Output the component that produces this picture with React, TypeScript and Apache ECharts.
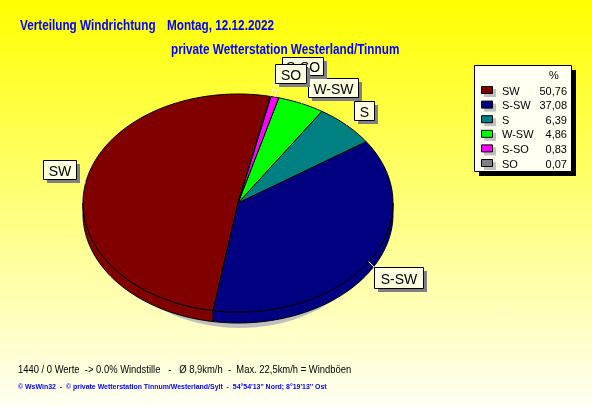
import React, { useEffect, useRef } from "react";
import * as echarts from "echarts";

// ---- data ----
const categories = ["SW", "S-SW", "S", "W-SW", "S-SO", "SO"];
const percents = [50.76, 37.08, 6.39, 4.86, 0.83, 0.07];
const percentLabels = ["50,76", "37,08", "6,39", "4,86", "0,83", "0,07"];
const colors = ["#800000", "#000080", "#008080", "#00FF00", "#FF00FF", "#808080"];

const titleLeft = "Verteilung Windrichtung";
const titleRight = "Montag, 12.12.2022";
const subtitle = "private Wetterstation Westerland/Tinnum";
const footer1 = "1440 / 0 Werte  -> 0.0% Windstille   -   Ø 8,9km/h  -  Max. 22,5km/h = Windböen";
const footer2 = "© WsWin32  -  © private Wetterstation Tinnum/Westerland/Sylt  -  54°54'13'' Nord; 8°19'13'' Ost";

// ---- layout ----
const CX = 238, CY = 203, RX = 155, RY = 109, DEPTH = 11, START = 78;
const labelBoxes = [
  { x: 43, y: 160, w: 33, h: 19 },
  { x: 374, y: 267, w: 49, h: 21 },
  { x: 354, y: 101, w: 20, h: 19 },
  { x: 308, y: 78, w: 50, h: 19 },
  { x: 282, y: 57, w: 41, h: 18 },
  { x: 275, y: 64, w: 31, h: 19 },
];
const SANS = "'Liberation Sans', Arial, sans-serif";

const total = percents.reduce((a, b) => a + b, 0);
const startAngles: number[] = [];
{
  let acc = 0;
  for (let i = 0; i < percents.length; i++) {
    startAngles.push(START + (acc / total) * 360);
    acc += percents[i];
  }
}

function pt(t: number, dy = 0): number[] {
  const r = (t * Math.PI) / 180;
  return [CX + RX * Math.cos(r), CY - RY * Math.sin(r) + dy];
}
function arc(a0: number, a1: number, dy = 0): number[][] {
  const pts: number[][] = [];
  const n = Math.max(1, Math.ceil(Math.abs(a1 - a0)));
  for (let k = 0; k <= n; k++) pts.push(pt(a0 + ((a1 - a0) * k) / n, dy));
  return pts;
}

export default function App() {
  const ref = useRef<HTMLDivElement>(null);
  useEffect(() => {
    if (!ref.current) return;
    const chart = echarts.init(ref.current, undefined, { renderer: "svg" });

    const graphics: any[] = [];
    graphics.push({
      type: "rect",
      z: 0,
      shape: { x: 0, y: 0, width: 592, height: 407 },
      style: {
        fill: new echarts.graphic.LinearGradient(0, 0, 0, 1, [
          { offset: 0, color: "#FFFF00" },
          { offset: 1, color: "#FFFFF4" },
        ]),
      },
    });
    // pie shadow
    graphics.push({
      type: "ellipse",
      z: 1,
      shape: { cx: 240, cy: 219, rx: 140, ry: 109 },
      style: { fill: "#C0C0C0" },
    });
    // titles (condensed look via horizontal scaling)
    const tStyle = { fill: "#0000FF", font: `bold 14px ${SANS}`, verticalAlign: "middle" };
    graphics.push({ type: "text", z: 10, x: 20, y: 25, scaleX: 0.84, style: { ...tStyle, text: titleLeft } });
    graphics.push({ type: "text", z: 10, x: 167, y: 25, scaleX: 0.84, style: { ...tStyle, text: titleRight } });
    graphics.push({ type: "text", z: 10, x: 171, y: 49, scaleX: 0.84, style: { ...tStyle, text: subtitle } });
    graphics.push({
      type: "text", z: 10, x: 18, y: 369, scaleX: 0.82,
      style: { text: footer1, fill: "#000", font: `11.5px ${SANS}`, verticalAlign: "middle" },
    });
    graphics.push({
      type: "text", z: 10, x: 18, y: 386, scaleX: 0.87,
      style: { text: footer2, fill: "#0000FF", font: `bold 8px ${SANS}`, verticalAlign: "middle" },
    });

    // slice labels with leader lines
    categories.forEach((c, i) => {
      const b = labelBoxes[i];
      const mid = startAngles[i] + (percents[i] / total) * 180;
      const p = pt(mid);
      const ax = Math.min(Math.max(p[0], b.x), b.x + b.w);
      const ay = Math.min(Math.max(p[1], b.y), b.y + b.h);
      graphics.push({
        type: "line", z: 10,
        shape: { x1: p[0], y1: p[1], x2: ax, y2: ay },
        style: { stroke: "#FFFFFF", lineWidth: 1 },
      });
    });
    categories.forEach((c, i) => {
      const b = labelBoxes[i];
      graphics.push({
        type: "rect", z: 11,
        shape: { x: b.x + 4, y: b.y + 4, width: b.w, height: b.h },
        style: { fill: "#808080" },
      });
      graphics.push({
        type: "rect", z: 11,
        shape: { x: b.x + 0.5, y: b.y + 0.5, width: b.w, height: b.h },
        style: { fill: "#FFFFE1", stroke: "#000", lineWidth: 1 },
      });
      graphics.push({
        type: "text", z: 11,
        x: b.x + b.w / 2 + 0.5, y: b.y + b.h / 2 + 1,
        style: { text: c, fill: "#000", font: `14px ${SANS}`, align: "center", verticalAlign: "middle" },
      });
    });

    // legend
    const LX = 474, LY = 65, LW = 97, LH = 106;
    graphics.push({ type: "rect", z: 12, shape: { x: LX + 5, y: LY + 5, width: LW, height: LH }, style: { fill: "#000" } });
    graphics.push({
      type: "rect", z: 12,
      shape: { x: LX + 0.5, y: LY + 0.5, width: LW, height: LH },
      style: { fill: "#FFFFF2", stroke: "#000", lineWidth: 1 },
    });
    graphics.push({
      type: "text", z: 13, x: 554, y: 75,
      style: { text: "%", fill: "#000", font: `11px ${SANS}`, align: "center", verticalAlign: "middle" },
    });
    categories.forEach((c, i) => {
      const y = 90 + i * 14.6;
      graphics.push({ type: "rect", z: 13, shape: { x: 484, y: y - 1, width: 12, height: 8 }, style: { fill: "#C0C0C0" } });
      graphics.push({
        type: "rect", z: 13,
        shape: { x: 481.5, y: y - 3.5, width: 11, height: 7 },
        style: { fill: colors[i], stroke: "#000", lineWidth: 1 },
      });
      graphics.push({
        type: "text", z: 13, x: 502, y: y + 0.5,
        style: { text: c, fill: "#000", font: `11px ${SANS}`, verticalAlign: "middle" },
      });
      graphics.push({
        type: "text", z: 13, x: 567, y: y + 0.5,
        style: { text: percentLabels[i], fill: "#000", font: `11px ${SANS}`, align: "right", verticalAlign: "middle" },
      });
    });

    chart.setOption({
      animation: false,
      graphic: { elements: graphics },
      series: [
        {
          type: "custom",
          coordinateSystem: "none",
          z: 5,
          silent: true,
          data: percents.map((v) => [v]),
          renderItem: (params: any, api: any) => {
            const i = params.dataIndex;
            const v = api.value(0);
            const a0 = startAngles[i];
            const a1 = a0 + (v / total) * 360;
            const children: any[] = [];
            for (let k = -1; k <= 1; k++) {
              const s = Math.max(a0, 180 + 360 * k);
              const e = Math.min(a1, 360 + 360 * k);
              if (e > s) {
                const top = arc(s, e);
                const bot = arc(s, e, DEPTH).reverse();
                children.push({
                  type: "polygon",
                  shape: { points: top.concat(bot) },
                  style: { fill: colors[i], stroke: "#000", lineWidth: 1 },
                });
              }
            }
            children.push({
              type: "polygon",
              shape: { points: [[CX, CY]].concat(arc(a0, a1)) },
              style: { fill: colors[i], stroke: "#000", lineWidth: 1 },
            });
            return { type: "group", children };
          },
        },
      ],
    });
    return () => chart.dispose();
  }, []);
  return <div ref={ref} style={{ position: "fixed", left: 0, top: 0, width: 592, height: 407 }} />;
}
